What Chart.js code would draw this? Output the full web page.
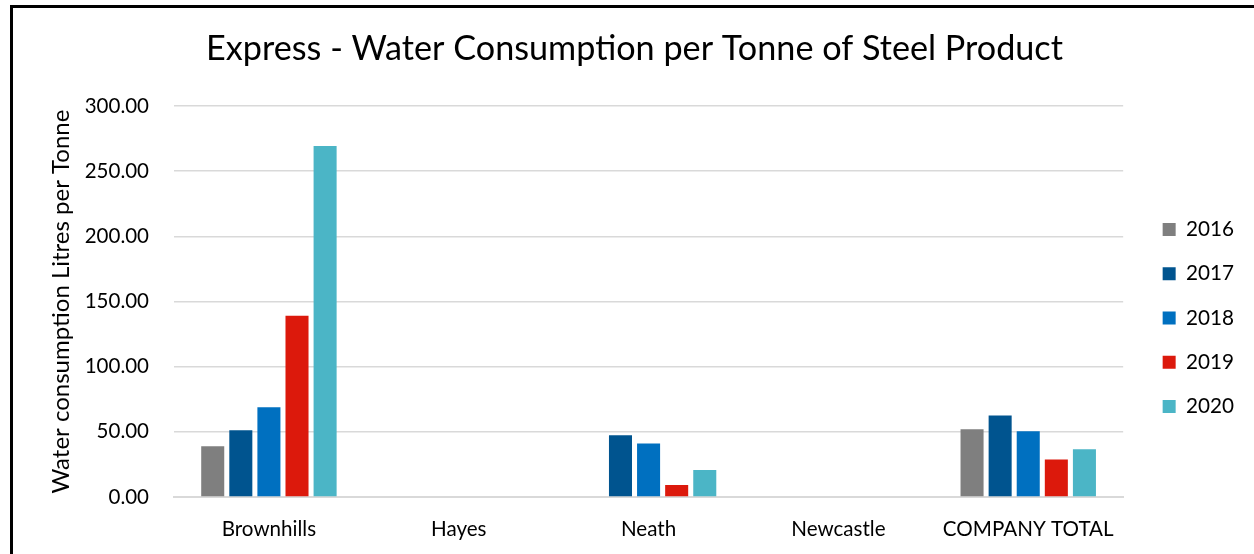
<!DOCTYPE html>
<html>
<head>
<meta charset="utf-8">
<script src="https://cdn.jsdelivr.net/npm/chart.js@4"></script>
<style>
    html, body { margin: 0; padding: 0; background: #fff; overflow: hidden; }
    #wrap { position: relative; width: 1254px; height: 554px; }
    #frame {
        position: absolute; left: 10px; top: 5px; width: 1260px; height: 600px;
        border: 3px solid #000; box-sizing: border-box; pointer-events: none;
    }
    canvas { position: absolute; left: 0; top: 0; }
</style>
</head>
<body>
<div id="wrap">
    <canvas id="waterChart" width="1254" height="554"></canvas>
    <div id="frame"></div>
</div>
<script>
const sites = ['Brownhills', 'Hayes', 'Neath', 'Newcastle', 'COMPANY TOTAL'];
const years = ['2016', '2017', '2018', '2019', '2020'];
const yearColours = ['#7f7f7f', '#00548f', '#0070c0', '#dc190c', '#4bb5c6'];

// litres per tonne, one array per year (null = no bar)
const values2016 = [39.0, null, null, null, 52.0];
const values2017 = [51.3, null, 47.4, null, 62.5];
const values2018 = [68.9, null, 41.1, null, 50.5];
const values2019 = [139.0, null, 9.2, null, 28.8];
const values2020 = [269.4, null, 20.7, null, 36.7];
const yearValues = [values2016, values2017, values2018, values2019, values2020];

const font = "'Lato', 'Liberation Sans', sans-serif";
Chart.defaults.font.family = font;
Chart.defaults.color = '#000';

const ctx = document.getElementById('waterChart').getContext('2d');
new Chart(ctx, {
    type: 'bar',
    data: {
        labels: sites,
        datasets: years.map(function (y, i) {
            return {
                label: y,
                data: yearValues[i],
                backgroundColor: yearColours[i],
                categoryPercentage: 0.74,
                barPercentage: 0.82
            };
        })
    },
    options: {
        responsive: false,
        animation: false,
        layout: { padding: { top: 8, left: 25, right: 10, bottom: 0 } },
        plugins: {
            title: {
                display: true,
                text: 'Express - Water Consumption per Tonne of Steel Product',
                font: { size: 34.2, weight: 'normal' },
                color: '#000',
                padding: { top: 20, bottom: 37 }
            },
            legend: {
                position: 'right',
                title: { display: true, text: ' ', font: { size: 10 }, padding: 31 },
                labels: {
                    boxWidth: 13,
                    boxHeight: 13,
                    padding: 23.5,
                    font: { size: 20.7 },
                    color: '#000'
                }
            },
            tooltip: { enabled: false }
        },
        scales: {
            x: {
                grid: { display: false, drawTicks: false },
                border: { color: '#d9d9d9', width: 2 },
                ticks: { font: { size: 20.6 }, padding: 20, maxRotation: 0 },
                afterFit: function (scale) { scale.height = 57; }
            },
            y: {
                min: 0,
                max: 300,
                ticks: {
                    stepSize: 50,
                    font: { size: 20.5 },
                    padding: 25,
                    callback: function (v) { return v.toFixed(2); }
                },
                grid: { color: '#d9d9d9', lineWidth: 1.5, drawTicks: false },
                border: { display: false },
                title: {
                    display: true,
                    text: 'Water consumption Litres per Tonne',
                    font: { size: 24 },
                    padding: { top: 22, bottom: 0 }
                },
                afterFit: function (scale) { scale.width = 149; }
            },
            gap: {
                position: 'right',
                display: true,
                ticks: { display: false },
                grid: { display: false, drawTicks: false },
                border: { display: false },
                afterFit: function (scale) { scale.width = 16; }
            }
        }
    }
});
</script>
</body>
</html>
